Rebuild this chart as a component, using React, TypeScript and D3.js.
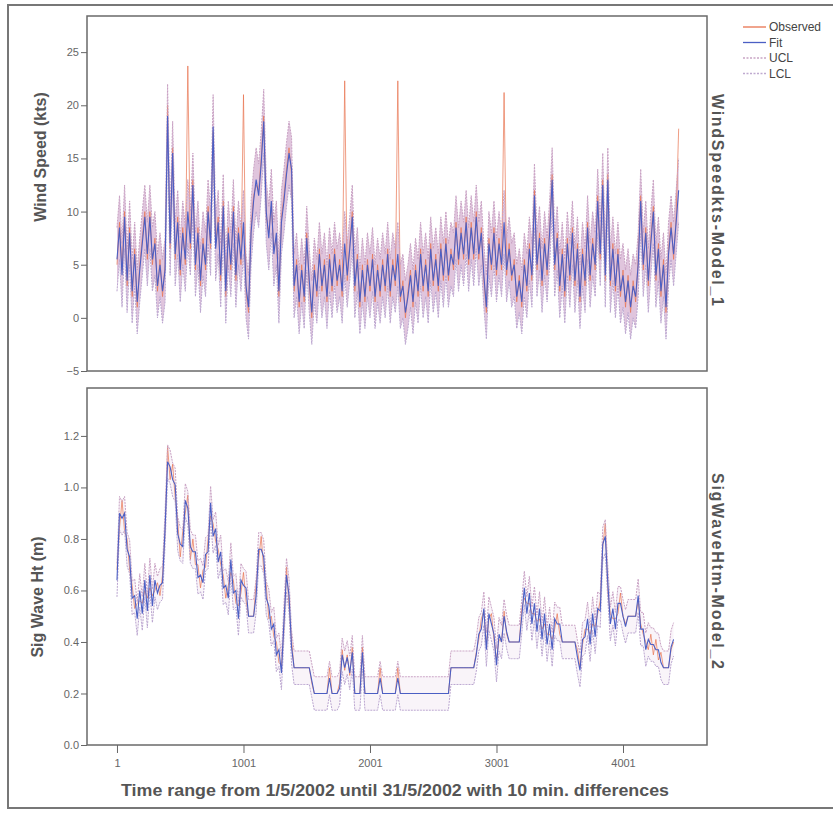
import React, { useEffect, useRef } from 'react'
import * as d3 from 'd3'

// one value every 20 time steps (10 min each), starting at step 1
const STEP = 20

const windFit = [
  5.5, 8.5, 4, 9.5, 3.5, 8, 2.5, 6, 1.5, 4.5,
  7, 9.5, 6, 9.5, 5.5, 7, 3, 5, 2.5, 4.5,
  19, 7, 15.5, 6, 9, 4.5, 8, 5.5, 10, 7,
  12.5, 5, 8, 3.5, 7, 5, 10, 7, 18, 6.5,
  9, 4, 10.5, 2.5, 8, 5, 10, 4, 8, 5.5,
  9, 3, 1, 8, 11, 13, 11.5, 14.5, 18.5, 10,
  7.5, 11, 6, 8, 2.5, 9, 11, 13.5, 15.5, 14,
  3, 5, 1.5, 4.5, 2, 7.5, 3.5, 0.5, 4.5, 2.5,
  6, 3, 5, 2, 5.5, 3, 6, 3.5, 5, 2.5,
  7, 4, 6.5, 9.5, 3, 5.5, 1.5, 4.5, 2, 5,
  3, 5.5, 2, 4.5, 2.5, 5, 3, 6, 2.5, 5,
  3.5, 6, 2, 3, 0.5, 2, 4, 1.5, 4.5, 2.5,
  6, 3, 5, 2.5, 6.5, 3.5, 5.5, 3, 6.5, 4,
  7, 4, 6, 5, 8.5, 5.5, 8, 6, 9, 5.5,
  8.5, 6, 9.5, 6, 8, 4, 1, 7, 5, 8,
  4.5, 7, 5, 9, 4.5, 6.5, 4, 5, 2, 3.5,
  1.5, 5, 3, 6.5, 4, 11.5, 5, 7.5, 3.5, 7,
  4.5, 8, 13, 5, 7.5, 3, 6, 2.5, 7, 4,
  8, 3.5, 6.5, 2, 6, 3.5, 8.5, 4, 7, 5,
  11, 6, 12.5, 4, 13, 3.5, 6.5, 3, 6, 2.5,
  4, 1.5, 3.5, 1, 3, 2, 5, 11, 5, 8,
  3.5, 7, 10, 4, 6.5, 2.5, 5, 1, 6, 8.5,
  6, 9, 12
]

const windObserved = [
  5, 9, 4.5, 10, 3, 8.5, 2, 6.5, 1, 5,
  7.5, 10, 5.5, 10, 5, 7.5, 2.5, 5.5, 2, 5,
  20, 6.5, 16, 5.5, 9.5, 4, 8.5, 5, 23.7, 6.5,
  13, 4.5, 8.5, 3, 7.5, 4.5, 10.5, 6.5, 17.5, 7,
  9.5, 3.5, 11, 2, 8.5, 4.5, 10.5, 3.5, 8.5, 5,
  21, 2.5, 0.5, 8.5, 11.5, 12.5, 12, 15, 19, 9.5,
  8, 10.5, 6.5, 7.5, 2, 9.5, 11.5, 14, 16, 13.5,
  2.5, 5.5, 1, 5, 1.5, 8, 3, 0, 5, 2,
  6.5, 2.5, 5.5, 1.5, 6, 2.5, 6.5, 3, 5.5, 2,
  22.3, 3.5, 7, 10, 2.5, 6, 1, 5, 1.5, 5.5,
  2.5, 6, 1.5, 5, 2, 5.5, 2.5, 6.5, 2, 5.5,
  3, 22.3, 1.5, 3.5, 0, 2.5, 4.5, 1, 5, 2,
  6.5, 2.5, 5.5, 2, 7, 3, 6, 2.5, 7, 3.5,
  7.5, 3.5, 6.5, 4.5, 9, 5, 8.5, 5.5, 9.5, 5,
  9, 5.5, 10, 5.5, 8.5, 3.5, 0.5, 7.5, 4.5, 8.5,
  4, 7.5, 4.5, 21.2, 4, 7, 3.5, 5.5, 1.5, 4,
  1, 5.5, 2.5, 7, 3.5, 12, 4.5, 8, 3, 7.5,
  4, 8.5, 13.5, 4.5, 8, 2.5, 6.5, 2, 7.5, 3.5,
  8.5, 3, 7, 1.5, 6.5, 3, 9, 3.5, 7.5, 4.5,
  11.5, 5.5, 13, 3.5, 13.5, 3, 7, 2.5, 6.5, 2,
  4.5, 1, 4, 0.5, 3.5, 1.5, 5.5, 11.5, 4.5, 8.5,
  3, 7.5, 10.5, 3.5, 7, 2, 5.5, 0.5, 6.5, 9,
  5.5, 9.5, 17.8
]

const waveFit = [
  0.64, 0.9, 0.88, 0.9, 0.76, 0.73, 0.57, 0.58, 0.49, 0.6,
  0.51, 0.64, 0.52, 0.66, 0.54, 0.64, 0.59, 0.62, 0.63, 0.84,
  1.1, 1.08, 1.03, 1.01, 0.82, 0.78, 0.77, 0.95, 0.92, 0.77,
  0.75, 0.75, 0.65, 0.66, 0.63, 0.74, 0.75, 0.94, 0.81, 0.84,
  0.71, 0.75, 0.61, 0.62, 0.57, 0.72, 0.59, 0.6, 0.49, 0.64,
  0.62, 0.61, 0.5, 0.5, 0.5, 0.58, 0.76, 0.76, 0.73, 0.57,
  0.54, 0.45, 0.47, 0.35, 0.37, 0.28, 0.48, 0.66, 0.58, 0.38,
  0.3, 0.3, 0.3, 0.3, 0.3, 0.3, 0.3, 0.25, 0.2, 0.2,
  0.2, 0.2, 0.2, 0.2, 0.26, 0.2, 0.2, 0.2, 0.22, 0.35,
  0.3, 0.34, 0.28, 0.36, 0.2, 0.2, 0.2, 0.36, 0.2, 0.2,
  0.2, 0.2, 0.2, 0.2, 0.26, 0.2, 0.2, 0.2, 0.2, 0.2,
  0.2, 0.26, 0.2, 0.2, 0.2, 0.2, 0.2, 0.2, 0.2, 0.2,
  0.2, 0.2, 0.2, 0.2, 0.2, 0.2, 0.2, 0.2, 0.2, 0.2,
  0.2, 0.2, 0.3, 0.3, 0.3, 0.3, 0.3, 0.3, 0.3, 0.3,
  0.3, 0.3, 0.35, 0.43, 0.45, 0.53, 0.37, 0.51, 0.47, 0.43,
  0.31, 0.43, 0.4, 0.5, 0.44, 0.4, 0.4, 0.4, 0.4, 0.4,
  0.5, 0.61, 0.51, 0.59, 0.47, 0.55, 0.44, 0.53, 0.41, 0.51,
  0.39, 0.47, 0.37, 0.49, 0.47, 0.47, 0.4, 0.4, 0.4, 0.4,
  0.4, 0.4, 0.34, 0.29, 0.41, 0.42, 0.49, 0.39, 0.51, 0.42,
  0.53, 0.52, 0.78, 0.81, 0.63, 0.47, 0.53, 0.45, 0.55, 0.55,
  0.5, 0.46, 0.5, 0.5, 0.5, 0.5, 0.58, 0.45, 0.45, 0.37,
  0.41, 0.39, 0.39, 0.37, 0.37, 0.32, 0.3, 0.3, 0.3, 0.38,
  0.41
]

const waveObserved = [
  0.68, 0.84, 0.95, 0.83, 0.8, 0.68, 0.62, 0.53, 0.55, 0.56,
  0.55, 0.6, 0.57, 0.61, 0.58, 0.6, 0.63, 0.58, 0.66, 0.82,
  1.16, 1.03, 1.09, 0.96, 0.87, 0.73, 0.83, 0.9, 0.97, 0.72,
  0.8, 0.7, 0.7, 0.61, 0.68, 0.69, 0.8, 0.89, 0.86, 0.79,
  0.76, 0.7, 0.66, 0.57, 0.62, 0.67, 0.64, 0.55, 0.54, 0.59,
  0.67, 0.56, 0.5, 0.5, 0.5, 0.63, 0.72, 0.81, 0.68, 0.62,
  0.49, 0.5, 0.42, 0.4, 0.32, 0.31, 0.45, 0.69, 0.54, 0.41,
  0.3, 0.3, 0.3, 0.3, 0.3, 0.3, 0.3, 0.24, 0.2, 0.2,
  0.2, 0.2, 0.2, 0.2, 0.3, 0.2, 0.2, 0.2, 0.24, 0.37,
  0.29, 0.35, 0.27, 0.38, 0.2, 0.2, 0.2, 0.38, 0.2, 0.2,
  0.2, 0.2, 0.2, 0.2, 0.3, 0.2, 0.2, 0.2, 0.2, 0.2,
  0.2, 0.3, 0.2, 0.2, 0.2, 0.2, 0.2, 0.2, 0.2, 0.2,
  0.2, 0.2, 0.2, 0.2, 0.2, 0.2, 0.2, 0.2, 0.2, 0.2,
  0.2, 0.2, 0.3, 0.3, 0.3, 0.3, 0.3, 0.3, 0.3, 0.3,
  0.3, 0.3, 0.36, 0.41, 0.49, 0.52, 0.39, 0.49, 0.51, 0.41,
  0.33, 0.41, 0.4, 0.52, 0.43, 0.4, 0.4, 0.4, 0.4, 0.4,
  0.53, 0.57, 0.55, 0.55, 0.51, 0.51, 0.48, 0.49, 0.45, 0.47,
  0.43, 0.43, 0.41, 0.45, 0.51, 0.43, 0.4, 0.4, 0.4, 0.4,
  0.4, 0.4, 0.37, 0.3, 0.39, 0.45, 0.45, 0.43, 0.47, 0.46,
  0.51, 0.56, 0.77, 0.86, 0.59, 0.51, 0.49, 0.49, 0.51, 0.59,
  0.5, 0.47, 0.5, 0.5, 0.5, 0.5, 0.56, 0.47, 0.43, 0.4,
  0.37, 0.43, 0.35, 0.41, 0.33, 0.36, 0.3, 0.3, 0.3, 0.37,
  0.4
]

// half width of the control limits around the fit
const windBand = 3.0
const waveBand = 0.065

const xTicks = [1, 1001, 2001, 3001, 4001]
const windTicks = [-5, 0, 5, 10, 15, 20, 25]
const waveTicks = [0, 0.2, 0.4, 0.6, 0.8, 1.0, 1.2]

const legendItems = [
  { label: 'Observed', color: '#e8734f', dash: null },
  { label: 'Fit', color: '#4b5fc4', dash: null },
  { label: 'UCL', color: '#c9a5c5', dash: '2,1.5' },
  { label: 'LCL', color: '#bfaad0', dash: '2,1.5' }
]

const colors = { obs: '#e8734f', fit: '#4b5fc4', ucl: '#c9a2c4', lcl: '#bba6d0', band: '#cfa6cb' }
const font = '"Liberation Sans", Arial, sans-serif'
const plotLeft = 87
const plotRight = 707

const x = d3.scaleLinear().domain([-236, 4665]).range([plotLeft, plotRight])
const tAt = (i: number) => 1 + i * STEP

const Panel = (props: any) => {
  const yRef = useRef<SVGGElement>(null)
  const xRef = useRef<SVGGElement>(null)
  const y = d3.scaleLinear().domain(props.domain).range([props.bottom, props.top])

  const line = d3.line<number>().x((d, i) => x(tAt(i))).y(d => y(d))
  const ucl = props.fit.map((d: number) => d + props.band)
  const lcl = props.fit.map((d: number) => d - props.band)
  const area = d3.area<number>()
    .x((d, i) => x(tAt(i)))
    .y0((d, i) => y(lcl[i]))
    .y1((d, i) => y(ucl[i]))

  useEffect(() => {
    const g = d3.select(yRef.current)
    g.selectAll('*').remove()
    g.attr('transform', `translate(${plotLeft},0)`)
      .call(d3.axisLeft(y).tickValues(props.ticks).tickSize(6).tickPadding(2).tickFormat(props.fmt))
      .call(s => s.select('.domain').remove())
    g.selectAll('line').attr('stroke', '#666')
    g.selectAll('text').attr('fill', '#666').attr('font-size', 11).attr('font-family', font)

    if (props.showX) {
      const gx = d3.select(xRef.current)
      gx.selectAll('*').remove()
      gx.attr('transform', `translate(0,${props.bottom})`)
        .call(d3.axisBottom(x).tickValues(xTicks).tickSize(8).tickPadding(6).tickFormat(d3.format('d')))
        .call(s => s.select('.domain').remove())
      gx.selectAll('line').attr('stroke', '#666')
      gx.selectAll('text').attr('fill', '#666').attr('font-size', 11).attr('font-family', font)
    }
  })

  return (
    <g>
      <path d={area(props.fit) || ''} fill={colors.band} fillOpacity={props.fillOpacity} />
      <path d={line(props.observed) || ''} fill='none' stroke={colors.obs} strokeWidth={0.7} />
      <path d={line(ucl) || ''} fill='none' stroke={colors.ucl} strokeWidth={1} strokeDasharray='2,1' />
      <path d={line(lcl) || ''} fill='none' stroke={colors.lcl} strokeWidth={1} strokeDasharray='2,1' />
      <path d={line(props.fit) || ''} fill='none' stroke={colors.fit} strokeWidth={1.1} />
      <rect x={plotLeft} y={props.top} width={plotRight - plotLeft} height={props.bottom - props.top}
        fill='none' stroke='#6a6a6a' strokeWidth={1.5} />
      <g ref={yRef} />
      <g ref={xRef} />
    </g>
  )
}

const App = () => {
  return (
    <svg width={833} height={814} style={{ position: 'absolute', left: 0, top: 0, background: '#fff' }}>
      <rect x={8} y={5} width={830} height={803} fill='none' stroke='#777' strokeWidth={2} />

      <Panel fit={windFit} observed={windObserved} band={windBand} domain={[-5, 28.4]}
        top={16} bottom={371} ticks={windTicks} fmt={d3.format('d')} showX={false} fillOpacity={0.65} />
      <Panel fit={waveFit} observed={waveObserved} band={waveBand} domain={[0, 1.386]}
        top={388} bottom={745} ticks={waveTicks} fmt={d3.format('.1f')} showX={true} fillOpacity={0.12} />

      <g fontFamily={font} fontWeight='bold' fill='#555'>
        <text transform='translate(46,157) rotate(-90)' textAnchor='middle' fontSize={16}>Wind Speed (kts)</text>
        <text transform='translate(43,597) rotate(-90)' textAnchor='middle' fontSize={16}>Sig Wave Ht (m)</text>
        <text transform='translate(712,200) rotate(90)' textAnchor='middle' fontSize={16}
          textLength={212} lengthAdjust='spacing'>WindSpeedkts-Model_1</text>
        <text transform='translate(712,571) rotate(90)' textAnchor='middle' fontSize={16}
          textLength={196} lengthAdjust='spacing'>SigWaveHtm-Model_2</text>
        <text x={395} y={796} textAnchor='middle' fontSize={16.5} textLength={548} lengthAdjust='spacingAndGlyphs'>
          Time range from 1/5/2002 until 31/5/2002 with 10 min. differences
        </text>
      </g>

      <g fontFamily={font} fontSize={12} fill='#444'>
        {legendItems.map((d, i) => (
          <g key={d.label} transform={`translate(743,${27 + i * 15.5})`}>
            <line x1={0} x2={23} y1={0} y2={0} stroke={d.color} strokeWidth={1.3}
              strokeDasharray={d.dash || undefined} />
            <text x={26} y={4}>{d.label}</text>
          </g>
        ))}
      </g>
    </svg>
  )
}

export default App
